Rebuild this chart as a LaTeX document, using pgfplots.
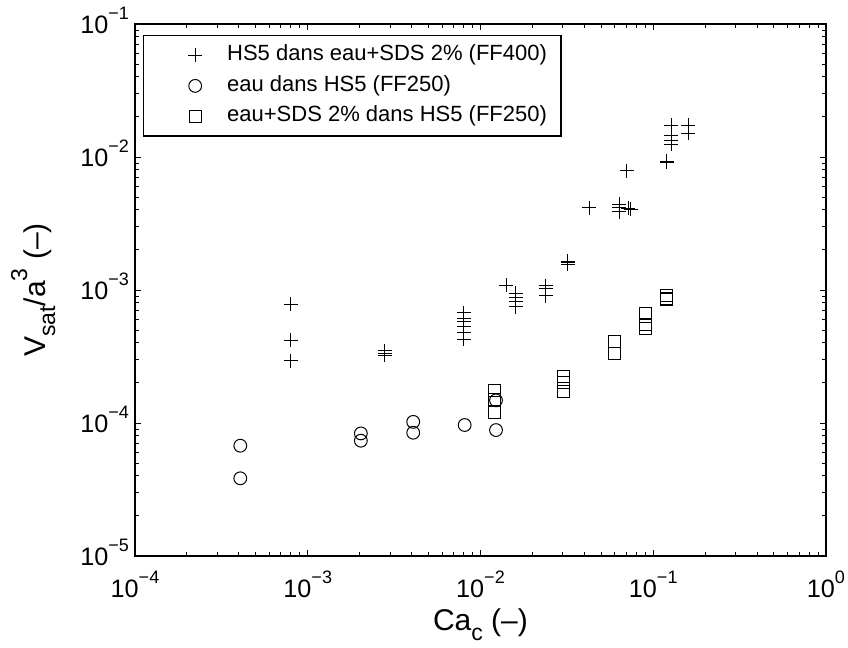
\documentclass[border=0pt]{standalone}
\usepackage{fontspec}
\setmainfont{Liberation Sans}
\usepackage{pgfplots}
\pgfplotsset{compat=1.18}
\pgfplotsset{myleg/.style={legend image code/.code={\path[draw=none,fill=none] (0pt,-3pt) (35pt,3pt); \draw plot coordinates {(21pt,0pt)};}}}
\newcommand{\tl}[1]{10\raisebox{7pt}{\fontsize{9}{10}\selectfont #1}}
\newcommand{\sbs}[1]{\raisebox{-5pt}{\fontsize{11.5}{12}\selectfont #1}}
\newcommand{\sps}[1]{\raisebox{9pt}{\fontsize{11.5}{12}\selectfont #1}}
\begin{document}
\begin{tikzpicture}
\useasboundingbox (-67.5pt,-46pt) rectangle (356.5pt,278pt);
\begin{axis}[
  at={(0,0)}, anchor=south west,
  scale only axis, width=345.5pt, height=266pt,
  xmode=log, ymode=log,
  xmin=1e-4, xmax=1, ymin=1e-5, ymax=1e-1,
  xtick={1e-4,1e-3,1e-2,1e-1,1},
  xticklabels={\tl{−4},\tl{−3},\tl{−2},\tl{−1},\tl{0}},
  ytick={1e-5,1e-4,1e-3,1e-2,1e-1},
  yticklabels={\tl{−5},\tl{−4},\tl{−3},\tl{−2},\tl{−1}},
  minor xtick={2e-4,3e-4,4e-4,5e-4,6e-4,7e-4,8e-4,9e-4,2e-3,3e-3,4e-3,5e-3,6e-3,7e-3,8e-3,9e-3,2e-2,3e-2,4e-2,5e-2,6e-2,7e-2,8e-2,9e-2,0.2,0.3,0.4,0.5,0.6,0.7,0.8,0.9},
  minor ytick={2e-5,3e-5,4e-5,5e-5,6e-5,7e-5,8e-5,9e-5,2e-4,3e-4,4e-4,5e-4,6e-4,7e-4,8e-4,9e-4,2e-3,3e-3,4e-3,5e-3,6e-3,7e-3,8e-3,9e-3,2e-2,3e-2,4e-2,5e-2,6e-2,7e-2,8e-2,9e-2},
  tick align=inside,
  major tick length=3pt, minor tick length=1.8pt,
  every tick/.style={black, line width=0.5pt},
  axis line style={line width=0.6pt},
  tick label style={font=\fontsize{12.6}{15}\selectfont},
  xticklabel style={anchor=base, yshift=-20.5pt},
  yticklabel style={anchor=base east, yshift=-4.5pt, xshift=0.5pt},
  xlabel={Ca\sbs{c} (–)},
  ylabel={V\sbs{sat}/a\sps{3} (–)},
  label style={font=\fontsize{15}{18}\selectfont},
  xlabel style={at={(axis description cs:0.5,-0.1391)}, anchor=base},
  ylabel style={at={(axis description cs:-0.1302,0.5)}, anchor=base, rotate=0},
  legend style={at={(0.011,0.979)}, anchor=north west, draw=black, line width=0.6pt,
    font=\fontsize{11}{13}\selectfont, cells={anchor=west},
    nodes={text height=8pt, text depth=2.5pt, inner sep=2pt},
    row sep=0.8pt, inner xsep=5pt, inner ysep=2.5pt},
]
\addplot[only marks, mark=+, mark size=3.5pt, line width=0.5pt, black, myleg] coordinates {
(8e-4,7.85e-4) (8e-4,4.2e-4) (8e-4,2.94e-4)
(2.8e-3,3.48e-4) (2.8e-3,3.34e-4) (2.8e-3,3.23e-4)
(8e-3,6.74e-4) (8e-3,6.12e-4) (8e-3,5.78e-4) (8e-3,5.3e-4) (8e-3,4.78e-4) (8e-3,4.26e-4)
(1.41e-2,1.09e-3)
(1.6e-2,9.44e-4) (1.6e-2,8.75e-4) (1.6e-2,8.17e-4) (1.6e-2,7.49e-4)
(2.38e-2,1.08e-3) (2.38e-2,1.03e-3) (2.38e-2,9.06e-4)
(3.2e-2,1.65e-3) (3.2e-2,1.6e-3) (3.2e-2,1.56e-3)
(4.25e-2,4.16e-3)
(6.35e-2,4.43e-3) (6.35e-2,4.19e-3) (6.35e-2,3.88e-3)
(7.15e-2,4.11e-3) (7.4e-2,4.05e-3)
(7.02e-2,7.89e-3)
(0.12,9.3e-3) (0.12,9.1e-3)
(0.127,1.74e-2) (0.127,1.44e-2) (0.127,1.34e-2) (0.127,1.25e-2)
(0.16,1.74e-2) (0.16,1.51e-2)
};
\addlegendentry{HS5 dans eau+SDS 2\% (FF400)}
\addplot[only marks, mark=o, mark size=3.2pt, line width=0.5pt, black, myleg] coordinates {
(4.07e-4,6.75e-5) (4.07e-4,3.84e-5)
(2.03e-3,8.35e-5) (2.03e-3,7.36e-5)
(4.08e-3,1.02e-4) (4.08e-3,8.45e-5)
(8.1e-3,9.66e-5)
(1.23e-2,1.48e-4) (1.23e-2,8.85e-5)
};
\addlegendentry{eau dans HS5 (FF250)}
\addplot[only marks, mark=square, mark size=3pt, line width=0.5pt, black, myleg] coordinates {
(1.2e-2,1.77e-4) (1.2e-2,1.49e-4) (1.2e-2,1.2e-4)
(3.01e-2,2.22e-4) (3.01e-2,2.03e-4) (3.01e-2,1.72e-4)
(6.0e-2,4.11e-4) (6.0e-2,3.36e-4) (6.0e-2,3.32e-4)
(9.03e-2,6.64e-4) (9.03e-2,5.52e-4) (9.03e-2,5.18e-4)
(0.12,9.12e-4) (0.12,8.67e-4) (0.12,8.42e-4)
};
\addlegendentry{eau+SDS 2\% dans HS5 (FF250)}
\end{axis}
\end{tikzpicture}
\end{document}
